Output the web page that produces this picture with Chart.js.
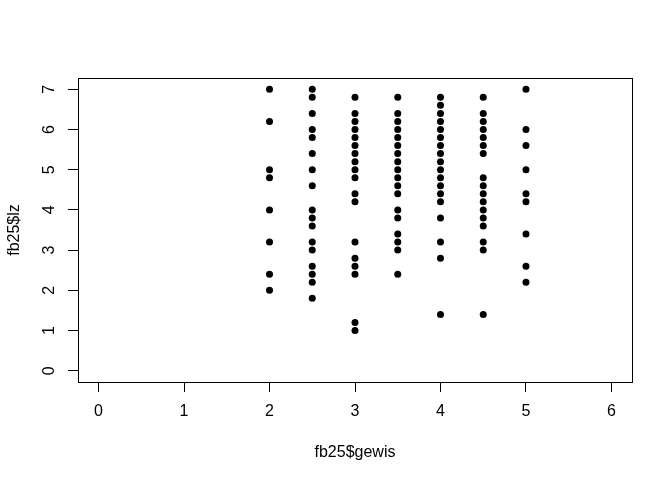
<!DOCTYPE html>
<html>
<head>
<meta charset="utf-8">
<script src="https://cdn.jsdelivr.net/npm/chart.js@4"></script>
<style>
  html, body { margin: 0; padding: 0; background: #fff; }
  #wrap { width: 672px; height: 480px; }
</style>
</head>
<body>
<div id="wrap"><canvas id="plot" width="672" height="480"></canvas></div>
<script>
// fb25$gewis values (x) and the fb25$lz values seen at each of them (y)
const gewisLevels = [2, 2.5, 3, 3.5, 4, 4.5, 5];
const lzAt2   = [7, 6.2, 5, 4.8, 4, 3.2, 2.4, 2];
const lzAt2_5 = [7, 6.8, 6.4, 6, 5.8, 5.4, 5, 4.6, 4, 3.8, 3.6, 3.2, 3, 2.6, 2.4, 2.2, 1.8];
const lzAt3   = [6.8, 6.4, 6.2, 6, 5.8, 5.6, 5.4, 5.2, 5, 4.8, 4.4, 4.2, 3.2, 2.8, 2.6, 2.4, 1.2, 1];
const lzAt3_5 = [6.8, 6.4, 6.2, 6, 5.8, 5.6, 5.4, 5.2, 5, 4.8, 4.6, 4.4, 4, 3.8, 3.4, 3.2, 3, 2.4];
const lzAt4   = [6.8, 6.6, 6.4, 6.2, 6, 5.8, 5.6, 5.4, 5.2, 5, 4.8, 4.6, 4.4, 4.2, 3.8, 3.2, 2.8, 1.4];
const lzAt4_5 = [6.8, 6.4, 6.2, 6, 5.8, 5.6, 5.4, 4.8, 4.6, 4.4, 4.2, 4, 3.8, 3.6, 3.2, 3, 1.4];
const lzAt5   = [7, 6, 5.6, 5, 4.4, 4.2, 3.4, 2.6, 2.2];

const xTicks = [0, 1, 2, 3, 4, 5, 6];
const yTicks = [0, 1, 2, 3, 4, 5, 6, 7];

const lzByLevel = [lzAt2, lzAt2_5, lzAt3, lzAt3_5, lzAt4, lzAt4_5, lzAt5];
const points = [];
gewisLevels.forEach((g, i) => {
  lzByLevel[i].forEach(v => points.push({ x: g, y: v }));
});

Chart.defaults.font.family = '"Liberation Sans", Arial, sans-serif';
Chart.defaults.font.size = 16;
Chart.defaults.color = '#000';

// box round the plot region, like R's box()
const boxPlugin = {
  id: 'box',
  afterDraw(chart) {
    const a = chart.chartArea;
    const c = chart.ctx;
    c.save();
    c.strokeStyle = '#000';
    c.lineWidth = 1;
    c.strokeRect(Math.round(a.left) + 0.5, Math.round(a.top) + 0.5,
      Math.round(a.right - a.left), Math.round(a.bottom - a.top));
    c.restore();
  }
};

const ctx = document.getElementById('plot').getContext('2d');
const chart = new Chart(ctx, {
  type: 'scatter',
  data: {
    datasets: [{
      label: 'fb25$lz',
      data: points,
      backgroundColor: '#000',
      borderColor: '#000',
      borderWidth: 0,
      pointRadius: 3.5,
      pointHoverRadius: 3.5
    }]
  },
  options: {
    responsive: false,
    animation: false,
    events: [],
    layout: { padding: { top: 78, right: 40, left: 0, bottom: 0 } },
    plugins: { legend: { display: false }, tooltip: { enabled: false } },
    scales: {
      x: {
        type: 'linear',
        min: -0.24,
        max: 6.24,
        afterBuildTicks: s => { s.ticks = xTicks.map(v => ({ value: v })); },
        afterFit: s => { s.height = 98; },
        border: { display: false },
        grid: { drawOnChartArea: false, drawTicks: true, tickLength: 10, tickColor: '#000', color: '#000' },
        ticks: { padding: 10, color: '#000', maxRotation: 0, autoSkip: false },
        title: { display: true, text: 'fb25$gewis', color: '#000', padding: { top: 0, bottom: 18 } }
      },
      y: {
        type: 'linear',
        min: -0.28,
        max: 7.28,
        afterBuildTicks: s => { s.ticks = yTicks.map(v => ({ value: v })); },
        afterFit: s => { s.width = 78; },
        border: { display: false },
        grid: { drawOnChartArea: false, drawTicks: true, tickLength: 10, tickColor: '#000', color: '#000' },
        ticks: { padding: 13.5, color: '#000', minRotation: 90, maxRotation: 90, crossAlign: 'center', autoSkip: false },
        title: { display: true, text: 'fb25$lz', color: '#000', padding: { top: 5, bottom: 0 } }
      }
    }
  },
  plugins: [boxPlugin]
});
</script>
</body>
</html>
